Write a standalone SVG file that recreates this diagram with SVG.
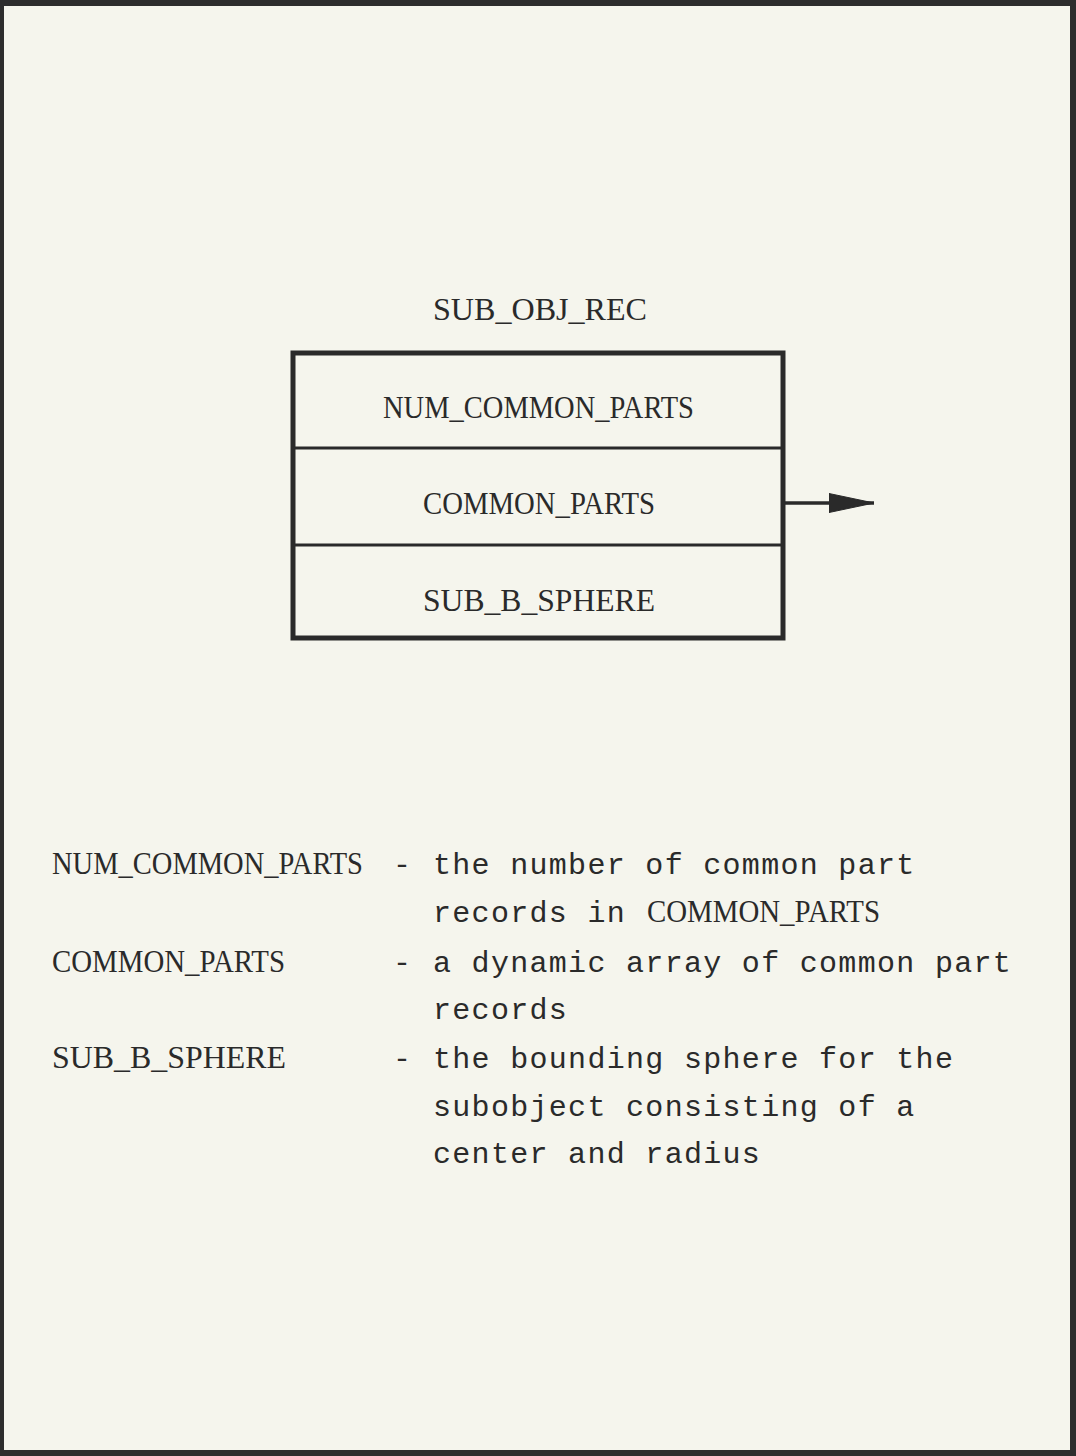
<svg xmlns="http://www.w3.org/2000/svg" width="1076" height="1456" viewBox="0 0 1076 1456">
<defs>
<style>
.lbl{font-family:"Liberation Serif","Times New Roman",serif;font-size:32px;fill:#2a2a2a}
.mono{font-family:"Liberation Mono","Courier New",monospace;font-size:30px;fill:#2a2a2a;letter-spacing:1.3px}
.frame{fill:none;stroke:#2a2a2a;stroke-width:5}
.div{stroke:#2a2a2a;stroke-width:3}
.conn{stroke:#2a2a2a;stroke-width:3.5;fill:none}
</style>
<marker id="arrow" markerUnits="userSpaceOnUse" markerWidth="46" markerHeight="22" refX="45" refY="11" orient="auto">
<path d="M0,1.5 L45,11 L0,20.5 Z" fill="#2a2a2a" stroke="#2a2a2a" stroke-width="1" stroke-linejoin="round"/>
</marker>
</defs>
<rect x="0" y="0" width="1076" height="1456" fill="#2d2d2d"/>
<rect x="4" y="6" width="1066" height="1444" fill="#f5f5ed"/>

<g id="title">
<text class="lbl" transform="translate(433,320) scale(0.88,1)" textLength="243.2" lengthAdjust="spacingAndGlyphs">SUB_OBJ_REC</text>
</g>

<g id="record">
<rect class="frame" x="293" y="353" width="490" height="285"/>
<g id="field-num-common-parts">
<line class="div" x1="293" y1="448" x2="783" y2="448"/>
<text class="lbl" transform="translate(383,418) scale(0.88,1)" textLength="353.4" lengthAdjust="spacingAndGlyphs">NUM_COMMON_PARTS</text>
</g>
<g id="field-common-parts">
<line class="div" x1="293" y1="545" x2="783" y2="545"/>
<text class="lbl" transform="translate(423,514) scale(0.88,1)" textLength="263.6" lengthAdjust="spacingAndGlyphs">COMMON_PARTS</text>
</g>
<g id="field-sub-b-sphere">
<text class="lbl" transform="translate(423,611) scale(0.88,1)" textLength="263.6" lengthAdjust="spacingAndGlyphs">SUB_B_SPHERE</text>
</g>
</g>

<g id="connectors">
<line class="conn" x1="785" y1="503" x2="874" y2="503" marker-end="url(#arrow)"/>
</g>

<g id="legend">
<text class="lbl" transform="translate(52,874) scale(0.88,1)" textLength="353.4" lengthAdjust="spacingAndGlyphs">NUM_COMMON_PARTS</text>
<text class="mono" x="393" y="874">-</text>
<text class="mono" x="433" y="874">the number of common part</text>
<text class="mono" x="433" y="922">records in</text>
<text class="lbl" transform="translate(647,922) scale(0.88,1)" textLength="264.8" lengthAdjust="spacingAndGlyphs">COMMON_PARTS</text>

<text class="lbl" transform="translate(52,972) scale(0.88,1)" textLength="264.8" lengthAdjust="spacingAndGlyphs">COMMON_PARTS</text>
<text class="mono" x="393" y="972">-</text>
<text class="mono" x="433" y="972">a dynamic array of common part</text>
<text class="mono" x="433" y="1019">records</text>

<text class="lbl" transform="translate(52,1068) scale(0.88,1)" textLength="265.9" lengthAdjust="spacingAndGlyphs">SUB_B_SPHERE</text>
<text class="mono" x="393" y="1068">-</text>
<text class="mono" x="433" y="1068">the bounding sphere for the</text>
<text class="mono" x="433" y="1116">subobject consisting of a</text>
<text class="mono" x="433" y="1163">center and radius</text>
</g>
</svg>
